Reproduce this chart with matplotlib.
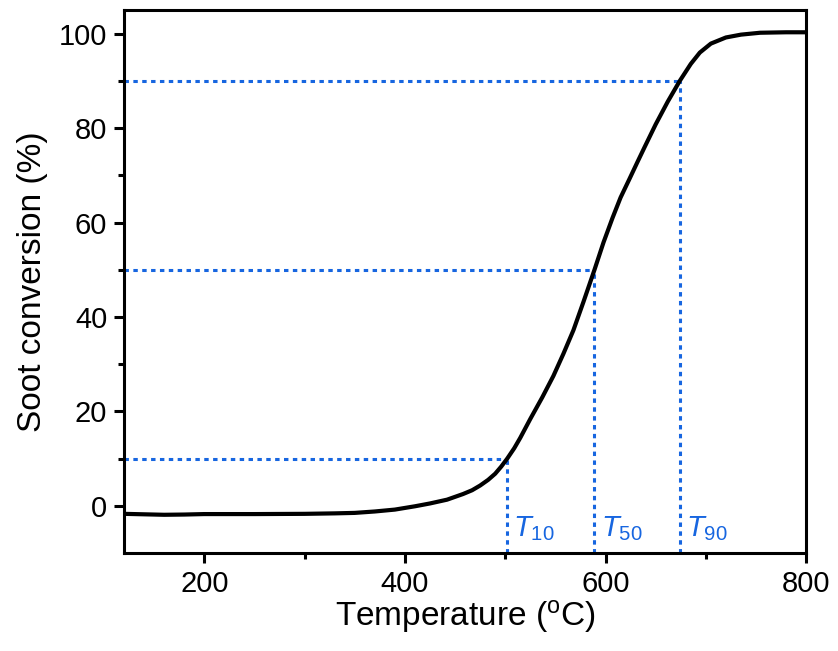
import numpy as np
import matplotlib.pyplot as plt

plt.rcParams['font.family'] = ['Liberation Sans', 'DejaVu Sans']
plt.rcParams['mathtext.fontset'] = 'custom'
plt.rcParams['mathtext.rm'] = 'Liberation Sans'
plt.rcParams['mathtext.it'] = 'Liberation Sans:italic'

# soot conversion curve
temp = [120, 140, 160, 180, 200, 250, 300, 330, 350, 370, 390, 410, 425, 442,
        458, 467, 475, 483, 490, 496, 502, 509, 515, 525, 537, 548, 558, 568,
        578, 589, 598, 607, 615, 624, 632, 639, 650, 662, 674, 685, 694, 705,
        720, 735, 754, 780, 800]
conv = [-1.7, -1.8, -1.9, -1.85, -1.75, -1.75, -1.7, -1.6, -1.5, -1.2, -0.8,
        -0.1, 0.5, 1.3, 2.5, 3.3, 4.3, 5.5, 6.8, 8.3, 10.0, 12.2, 14.4, 18.4,
        23.0, 27.5, 32.2, 37.2, 43.2, 50.0, 55.8, 61.0, 65.3, 69.3, 72.9, 76.0,
        80.8, 85.6, 90.0, 93.6, 96.0, 97.9, 99.2, 99.8, 100.2, 100.3, 100.3]

levels = [10, 50, 90]
t_vals = [502, 589, 674]
t_labels = ['10', '50', '90']

xmin, xmax = 120, 800
ymin, ymax = -10, 105
blue = '#1766e0'

fig = plt.figure(figsize=(8.38, 6.51), dpi=100)
ax = fig.add_axes([0.148, 0.1505, 0.814, 0.834])

for lv, tv, lab in zip(levels, t_vals, t_labels):
    ax.plot([xmin, tv], [lv, lv], color=blue, lw=2.2, dashes=(1.45, 1.45))
    ax.plot([tv, tv], [ymin, lv], color=blue, lw=2.2, dashes=(1.45, 1.45))
    ax.text(tv + 6, -6.4, r'$\mathit{T}_{\mathrm{' + lab + '}}$', color=blue,
            fontsize=21, va='baseline', ha='left')

ax.plot(temp, conv, color='black', lw=3.0)

ax.set_xlim(xmin, xmax)
ax.set_ylim(ymin, ymax)
ax.set_xticks([200, 400, 600, 800])
ax.set_xticks([300, 500, 700], minor=True)
ax.set_yticks([0, 20, 40, 60, 80, 100])
ax.set_yticks([10, 30, 50, 70, 90], minor=True)
ax.tick_params(which='major', length=7, width=2.2, labelsize=21, pad=5)
ax.tick_params(which='minor', length=4, width=2.2)
for s in ax.spines.values():
    s.set_linewidth(2.2)

ax.set_xlabel('Temperature ($\\mathregular{^oC}$)', fontsize=24, labelpad=0)
ax.set_ylabel('Soot conversion (%)', fontsize=24, labelpad=8)

fig.savefig('out.png', dpi=100)
